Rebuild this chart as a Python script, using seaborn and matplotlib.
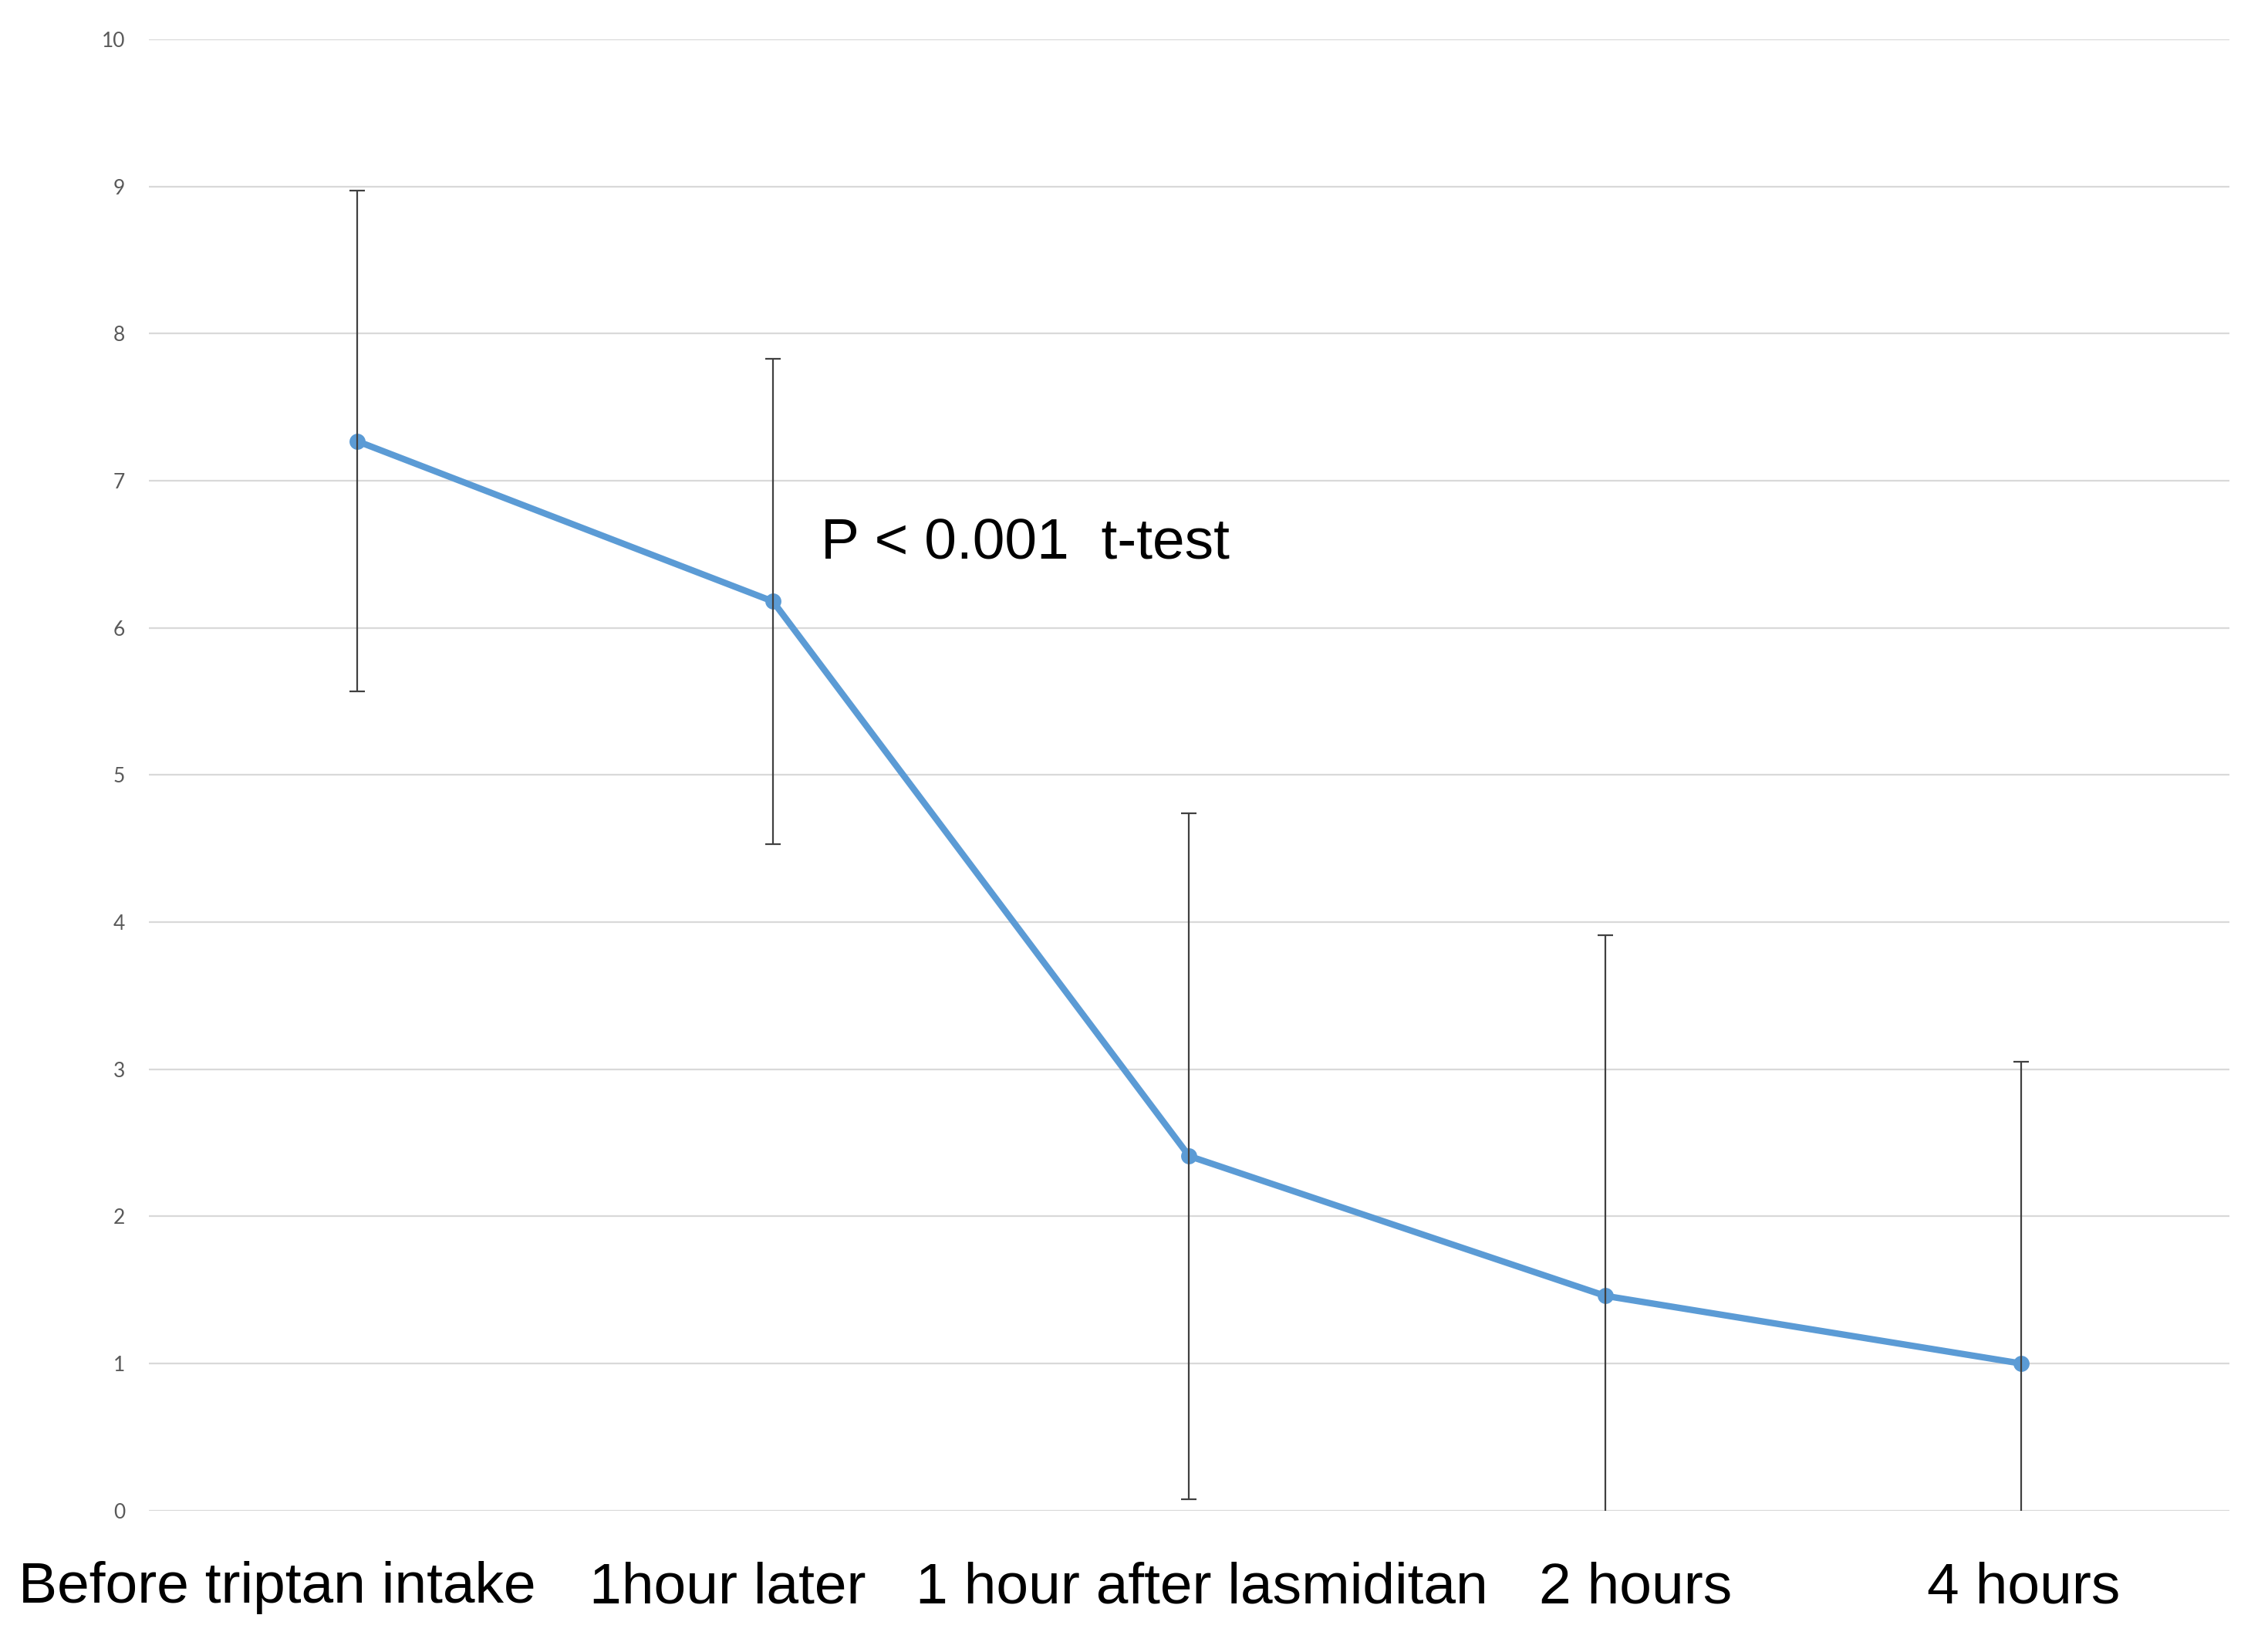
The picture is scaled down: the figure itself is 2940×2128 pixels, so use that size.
import numpy as np
import pandas as pd
import matplotlib
matplotlib.use("Agg")
import matplotlib.pyplot as plt
import matplotlib.transforms as mtransforms
import seaborn as sns

# values
time_points = ['Before triptan intake', '1hour later', '1 hour after lasmiditan', '2 hours', '4 hours']
mean_score = [7.27, 6.18, 2.41, 1.46, 1.0]
sd_score = [1.70, 1.65, 2.33, 2.45, 2.05]
y_ticks = [0, 1, 2, 3, 4, 5, 6, 7, 8, 9, 10]
note_text = 'P < 0.001  t-test'

df = pd.DataFrame({'time': time_points, 'score': mean_score, 'sd': sd_score})

sns.set_style('white')
plt.rcParams['font.family'] = ['Liberation Sans', 'DejaVu Sans']

fig = plt.figure(figsize=(14.7, 10.64), dpi=200)
ax = fig.add_axes([0.0656, 0.080, 0.9174, 0.896])

line_blue = '#5B9BD5'

sns.lineplot(data=df, x='time', y='score', ax=ax, sort=False,
             color=line_blue, linewidth=3.0,
             marker='o', markersize=7.5, markeredgewidth=0, zorder=3)

ax.errorbar(np.arange(len(time_points)), df['score'], yerr=df['sd'],
            fmt='none', ecolor='#404040', elinewidth=0.8,
            capsize=3.5, capthick=0.8, zorder=4, clip_on=True)

ax.set_xlim(-0.5, len(time_points) - 0.5)
ax.set_ylim(0, 10)
ax.set_yticks(y_ticks)
ax.set_yticklabels([str(v) for v in y_ticks], fontsize=9.5, color='#595959',
                   family=['Lato', 'DejaVu Sans'])
ax.yaxis.grid(True, color='#D9D9D9', linewidth=0.8)
ax.set_axisbelow(True)
ax.tick_params(axis='both', length=0)
ax.tick_params(axis='y', pad=11)
ax.tick_params(axis='x', pad=23.5, labelsize=27, labelcolor='black')

for s in ax.spines.values():
    s.set_visible(False)

ax.set_xlabel('')
ax.set_ylabel('')

# the x labels in the original are not centred exactly under the points
label_shift = [-37, -21, 6, 14, 1]
for lab, dx in zip(ax.get_xticklabels(), label_shift):
    lab.set_transform(lab.get_transform() +
                      mtransforms.ScaledTranslation(dx / 72, 0, fig.dpi_scale_trans))

ax.text(1.115, 6.57, note_text, fontsize=27, ha='left', va='center', color='black')

fig.savefig('out.png', dpi=200)
